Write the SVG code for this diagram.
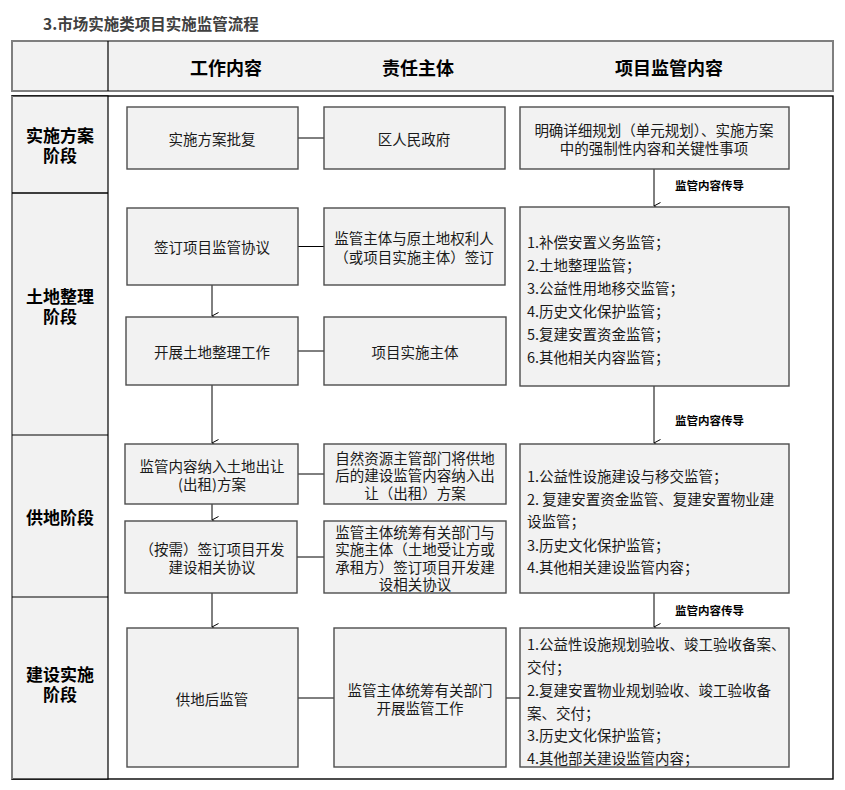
<svg xmlns="http://www.w3.org/2000/svg" width="845" height="790" viewBox="0 0 845 790">
<defs>
<style>
text{font-family:"Noto Sans CJK SC","Microsoft YaHei",sans-serif;fill:#1a1a1a}
.t{font-size:14.5px;text-anchor:middle;dominant-baseline:central}
.l{font-size:14.5px;dominant-baseline:central}
.stage{font-size:17px;font-weight:bold;text-anchor:middle;dominant-baseline:central;fill:#000}
.hd{font-size:18px;font-weight:bold;text-anchor:middle;dominant-baseline:central;fill:#000}
.lab{font-size:11.5px;font-weight:bold;dominant-baseline:central;fill:#000}
.box{fill:#f2f2f2;stroke:#4d4d4d;stroke-width:1.4}
.ln{stroke:#000;stroke-width:1;fill:none}
</style>
<marker id="arr" markerWidth="10" markerHeight="10" refX="5" refY="8" orient="auto" markerUnits="userSpaceOnUse" viewBox="0 0 10 10">
<path d="M1.5,1.5 L5,8 L8.5,1.5" fill="none" stroke="#000" stroke-width="1"/>
</marker>
</defs>
<rect width="845" height="790" fill="#fff"/>
<text x="43" y="23" style="font-size:15.5px;font-weight:bold;fill:#404040;dominant-baseline:central">3.市场实施类项目实施监管流程</text>

<g id="header">
<rect x="12" y="41" width="821" height="50" fill="#f2f2f2" stroke="#7f7f7f" stroke-width="2"/>
<line x1="108" y1="41" x2="108" y2="91" stroke="#000" stroke-width="1.2"/>
<text class="hd" x="226" y="67">工作内容</text>
<text class="hd" x="418" y="67">责任主体</text>
<text class="hd" x="669" y="67">项目监管内容</text>
</g>

<g id="frame">
<rect x="12" y="96" width="821" height="683" fill="#fff" stroke="#000" stroke-width="1.4"/>
<rect x="12" y="96" width="96" height="683" fill="#f2f2f2" stroke="#000" stroke-width="1.2"/>
<line x1="12" y1="96" x2="12" y2="779" stroke="#7f7f7f" stroke-width="2"/>
<line x1="12" y1="193" x2="108" y2="193" stroke="#000" stroke-width="1.6"/>
<line x1="12" y1="435" x2="108" y2="435" stroke="#000" stroke-width="1.2"/>
<line x1="12" y1="597" x2="108" y2="597" stroke="#000" stroke-width="1.2"/>
</g>

<g id="stage1"><text class="stage"><tspan x="60" y="134">实施方案</tspan><tspan x="60" y="154">阶段</tspan></text></g>
<g id="stage2"><text class="stage"><tspan x="60" y="295">土地整理</tspan><tspan x="60" y="315">阶段</tspan></text></g>
<g id="stage3"><text class="stage" x="60" y="516">供地阶段</text></g>
<g id="stage4"><text class="stage"><tspan x="60" y="673">建设实施</tspan><tspan x="60" y="693">阶段</tspan></text></g>

<g id="connectors">
<line class="ln" x1="298" y1="138" x2="324" y2="138"/>
<line class="ln" x1="298" y1="246.5" x2="324" y2="246.5"/>
<line class="ln" x1="298" y1="351" x2="324" y2="351"/>
<line class="ln" x1="298" y1="474" x2="324" y2="474"/>
<line class="ln" x1="297" y1="557" x2="324" y2="557"/>
<line class="ln" x1="298" y1="698" x2="334" y2="698"/>
<line class="ln" x1="506" y1="698" x2="520" y2="698"/>
<line class="ln" x1="212" y1="285" x2="212" y2="316" marker-end="url(#arr)"/>
<line class="ln" x1="212" y1="385" x2="212" y2="443" marker-end="url(#arr)"/>
<line class="ln" x1="212" y1="504" x2="212" y2="520" marker-end="url(#arr)"/>
<line class="ln" x1="212" y1="593" x2="212" y2="627" marker-end="url(#arr)"/>
<line class="ln" x1="654" y1="169" x2="654" y2="206" marker-end="url(#arr)"/>
<line class="ln" x1="654" y1="386" x2="654" y2="443" marker-end="url(#arr)"/>
<line class="ln" x1="654" y1="593" x2="654" y2="627" marker-end="url(#arr)"/>
<text class="lab" x="675" y="185">监管内容传导</text>
<text class="lab" x="675" y="420">监管内容传导</text>
<text class="lab" x="675" y="610">监管内容传导</text>
</g>

<g id="w1"><rect class="box" x="127" y="107" width="171" height="62"/><text class="t" x="212" y="138">实施方案批复</text></g>
<g id="w2"><rect class="box" x="127" y="208" width="171" height="77"/><text class="t" x="212" y="246">签订项目监管协议</text></g>
<g id="w3"><rect class="box" x="126" y="317" width="172" height="68"/><text class="t" x="212" y="351">开展土地整理工作</text></g>
<g id="w4"><rect class="box" x="125" y="444" width="173" height="60"/><text class="t"><tspan x="212" y="465">监管内容纳入土地出让</tspan><tspan x="212" y="483">(出租)方案</tspan></text></g>
<g id="w5"><rect class="box" x="125" y="521" width="172" height="72"/><text class="t"><tspan x="212" y="548">（按需）签订项目开发</tspan><tspan x="212" y="566">建设相关协议</tspan></text></g>
<g id="w6"><rect class="box" x="127" y="628" width="171" height="139"/><text class="t" x="212" y="698">供地后监管</text></g>

<g id="r1"><rect class="box" x="324" y="107" width="181" height="62"/><text class="t" x="414" y="138">区人民政府</text></g>
<g id="r2"><rect class="box" x="324" y="208" width="181" height="77"/><text class="t"><tspan x="414" y="237">监管主体与原土地权利人</tspan><tspan x="414" y="256">（或项目实施主体）签订</tspan></text></g>
<g id="r3"><rect class="box" x="324" y="317" width="182" height="68"/><text class="t" x="415" y="351">项目实施主体</text></g>
<g id="r4"><rect class="box" x="324" y="444" width="182" height="60"/><text class="t"><tspan x="415" y="457">自然资源主管部门将供地</tspan><tspan x="415" y="474">后的建设监管内容纳入出</tspan><tspan x="415" y="492">让（出租）方案</tspan></text></g>
<g id="r5"><rect class="box" x="324" y="521" width="182" height="72"/><text class="t"><tspan x="415" y="531">监管主体统筹有关部门与</tspan><tspan x="415" y="548">实施主体（土地受让方或</tspan><tspan x="415" y="566">承租方）签订项目开发建</tspan><tspan x="415" y="583">设相关协议</tspan></text></g>
<g id="r6"><rect class="box" x="334" y="628" width="172" height="139"/><text class="t"><tspan x="420" y="689">监管主体统筹有关部门</tspan><tspan x="420" y="707">开展监管工作</tspan></text></g>

<g id="m1"><rect class="box" x="520" y="107" width="269" height="62"/><text class="t"><tspan x="654" y="129">明确详细规划（单元规划）、实施方案</tspan><tspan x="654" y="147">中的强制性内容和关键性事项</tspan></text></g>
<g id="m2"><rect class="box" x="520" y="207" width="269" height="179"/>
<text class="l" x="527" y="241">1.补偿安置义务监管；</text>
<text class="l" x="527" y="264">2.土地整理监管；</text>
<text class="l" x="527" y="287">3.公益性用地移交监管；</text>
<text class="l" x="527" y="310">4.历史文化保护监管；</text>
<text class="l" x="527" y="333">5.复建安置资金监管；</text>
<text class="l" x="527" y="356">6.其他相关内容监管；</text>
</g>
<g id="m3"><rect class="box" x="520" y="444" width="269" height="149"/>
<text class="l" x="527" y="475">1.公益性设施建设与移交监管；</text>
<text class="l"><tspan x="527" y="498">2. 复建安置资金监管、复建安置物业建</tspan><tspan x="527" y="520">设监管；</tspan></text>
<text class="l" x="527" y="544">3.历史文化保护监管；</text>
<text class="l" x="527" y="566">4.其他相关建设监管内容；</text>
</g>
<g id="m4"><rect class="box" x="520" y="628" width="269" height="139"/>
<text class="l"><tspan x="527" y="643">1.公益性设施规划验收、竣工验收备案、</tspan><tspan x="527" y="666">交付；</tspan></text>
<text class="l"><tspan x="527" y="689">2.复建安置物业规划验收、竣工验收备</tspan><tspan x="527" y="712">案、交付；</tspan></text>
<text class="l" x="527" y="734">3.历史文化保护监管；</text>
<text class="l" x="527" y="757">4.其他部关建设监管内容；</text>
</g>
</svg>
